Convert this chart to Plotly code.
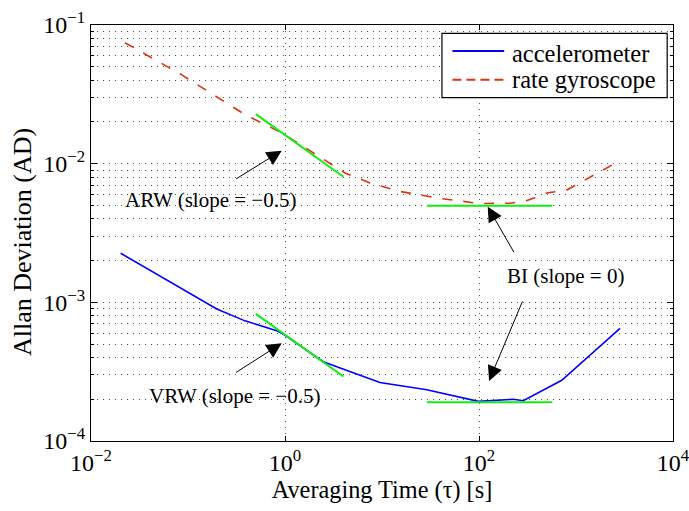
import numpy as np
import plotly.graph_objects as go

# Allan deviation curves (tau in seconds)
tau_acc = [0.0202, 0.169, 0.198, 0.387, 0.821, 0.961, 2.48, 4.50, 9.53, 28.9, 98.4, 226, 286, 713, 2844]
ad_acc = [2.26e-3, 9.57e-4, 8.95e-4, 7.35e-4, 6.25e-4, 5.89e-4, 3.73e-4, 3.20e-4, 2.64e-4,
          2.34e-4, 1.93e-4, 2.00e-4, 1.95e-4, 2.74e-4, 6.50e-4]

tau_gyro = [0.0224, 0.0848, 0.378, 0.931, 4.16, 7.52, 15.3, 39.6, 102, 209, 313, 514, 789, 2844]
ad_gyro = [0.0745, 0.0440, 0.0228, 0.01663, 8.57e-3, 7.26e-3, 6.31e-3, 5.61e-3, 5.16e-3,
           5.18e-3, 5.43e-3, 6.17e-3, 6.41e-3, 0.01052]

# Noise-term fits: random walk (slope -0.5) and bias instability (slope 0)
rw_tau = [0.5, 4.0]
arw_coef = 0.0161      # gyro angle random walk, AD at tau = 1 s
vrw_coef = 5.84e-4     # accel velocity random walk, AD at tau = 1 s
bi_tau = [29, 570]
bi_gyro = 4.98e-3
bi_acc = 1.905e-4

series_names = ["accelerometer", "rate gyroscope"]

x_ticks = [1e-2, 1e0, 1e2, 1e4]
x_ticktext = ["10<sup>−2</sup>", "10<sup>0</sup>", "10<sup>2</sup>", "10<sup>4</sup>"]
y_ticks = [1e-4, 1e-3, 1e-2, 1e-1]
y_ticktext = ["10<sup>−4</sup>", "10<sup>−3</sup>", "10<sup>−2</sup>", "10<sup>−1</sup>"]
y_minor = [m * 10.0 ** k for k in (-4, -3, -2) for m in range(2, 10)]

SERIF = "Times New Roman, DejaVu Serif, serif"
GRID = dict(gridcolor="#555555", griddash="1px,5px", gridwidth=1)
GREEN = "#11EE11"
BLUE = "#0000FF"
RED = "#DD3311"
styles = [dict(color=BLUE, width=1.6), dict(color=RED, width=1.6, dash="10px,11px")]

fig = go.Figure()
fig.add_trace(go.Scatter(x=tau_acc, y=ad_acc, mode="lines", name=series_names[0],
                         line=styles[0], showlegend=False))
fig.add_trace(go.Scatter(x=tau_gyro, y=ad_gyro, mode="lines", name=series_names[1],
                         line=styles[1], showlegend=False))

rw = np.array(rw_tau)
for coef in (arw_coef, vrw_coef):
    fig.add_trace(go.Scatter(x=rw, y=coef / np.sqrt(rw), mode="lines", showlegend=False,
                             line=dict(color=GREEN, width=2)))
for level in (bi_gyro, bi_acc):
    fig.add_trace(go.Scatter(x=bi_tau, y=[level, level], mode="lines", showlegend=False,
                             line=dict(color=GREEN, width=2)))

lg = np.log10
labels = [
    ("ARW (slope = −0.5)", 0.169, 5.47e-3),
    ("VRW (slope = −0.5)", 0.298, 2.11e-4),
    ("BI (slope = 0)", 771, 1.54e-3),
]
for text, tx, ty in labels:
    fig.add_annotation(x=lg(tx), y=lg(ty), text=text, showarrow=False,
                       font=dict(family=SERIF, size=21, color="black"))

# arrows: tip in data units, tail offset in pixels
arrows = [
    (0.925, 0.0124, -47, 29),
    (0.925, 5.07e-4, -47, 30),
    (123, 4.9e-3, 27, 47),
    (127, 2.71e-4, 34, -81),
]
for tx, ty, ax, ay in arrows:
    fig.add_annotation(x=lg(tx), y=lg(ty), ax=ax, ay=ay, text="", showarrow=True,
                       arrowhead=2, arrowsize=3.0, arrowwidth=1, arrowcolor="black")

# boxed legend in the upper-right corner of the axes
box_x0, box_x1, box_y0, box_y1 = 0.603, 0.99, 0.8252, 0.980
fig.add_shape(type="rect", xref="paper", yref="paper", x0=box_x0, x1=box_x1,
              y0=box_y0, y1=box_y1, line=dict(color="black", width=1.2),
              fillcolor="white", layer="above")
line_y = [0.9375, 0.8685]
text_y = [0.9315, 0.8690]
legend_dash = [None, "9px,5px"]
for name, style, ly, ty, dsh in zip(series_names, styles, line_y, text_y, legend_dash):
    ln = dict(color=style["color"], width=2)
    if dsh:
        ln["dash"] = dsh
    fig.add_shape(type="line", xref="paper", yref="paper", x0=0.621, x1=0.710,
                  y0=ly, y1=ly, line=ln, layer="above")
    fig.add_annotation(xref="paper", yref="paper", x=0.7195, y=ty, text=name,
                       showarrow=False, xanchor="left", yanchor="middle",
                       font=dict(family=SERIF, size=24.5, color="black"))

# y-axis label, set slightly below the axis midpoint
fig.add_annotation(xref="paper", yref="paper", x=-0.1168, y=0.4784,
                   text="Allan Deviation (AD)", textangle=-90, showarrow=False,
                   xanchor="center", yanchor="middle",
                   font=dict(family=SERIF, size=26, color="black"))

fig.update_layout(
    width=689, height=511,
    margin=dict(l=91, r=16, t=25, b=70, autoexpand=False),
    paper_bgcolor="white", plot_bgcolor="white",
    font=dict(family=SERIF, size=22, color="black"),
    showlegend=False,
    xaxis=dict(type="log", range=[-2, 4], tickvals=x_ticks, ticktext=x_ticktext,
               ticks="inside", ticklen=5, tickcolor="black", showline=True,
               linecolor="black", linewidth=1, mirror="ticks", zeroline=False,
               ticklabeloverflow="allow", automargin=False,
               showgrid=True, **GRID, tickfont=dict(family=SERIF, size=24),
               title=dict(text="Averaging Time (τ) [s]", font=dict(family=SERIF, size=24.3),
                          standoff=5)),
    yaxis=dict(type="log", range=[-4, -1], tickvals=y_ticks, ticktext=y_ticktext,
               ticks="inside", ticklen=6, tickcolor="black", showline=True,
               linecolor="black", linewidth=1, mirror="ticks", zeroline=False,
               automargin=False,
               showgrid=True, **GRID, tickfont=dict(family=SERIF, size=24),
               minor=dict(tickvals=y_minor, ticks="inside", ticklen=3, tickcolor="black",
                          showgrid=True, **GRID)),
)

fig.write_html("out.html")
